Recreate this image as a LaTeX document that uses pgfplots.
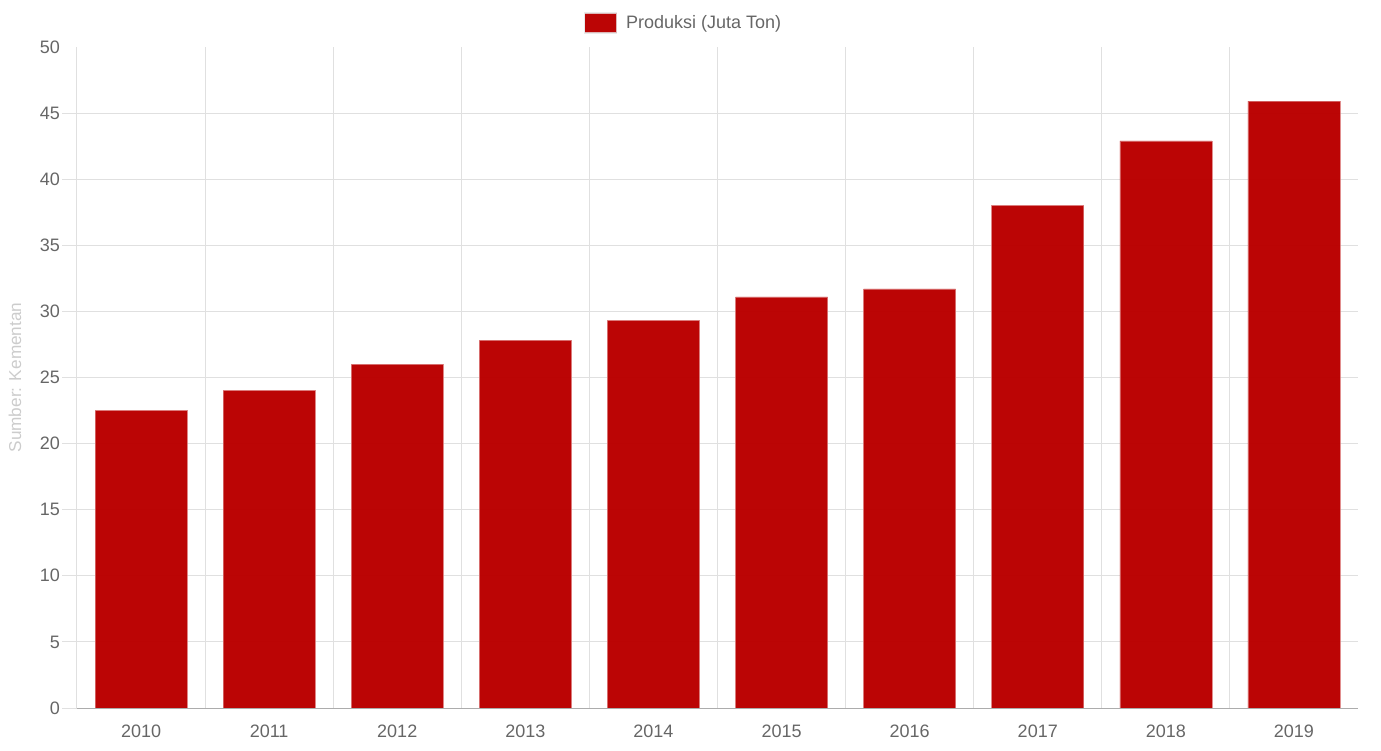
\documentclass[border=0pt]{standalone}
\usepackage{fontspec}
\setmainfont{Liberation Sans}
\usepackage{pgfplots}
\pgfplotsset{compat=1.18}
\definecolor{barred}{HTML}{BA0000}
\definecolor{tickgray}{HTML}{666666}
\definecolor{gridgray}{HTML}{E0E0E0}
\begin{document}
\begin{tikzpicture}
\useasboundingbox (-38.5pt,-21pt) rectangle (652pt,354pt);
\begin{axis}[
  at={(0,0)}, anchor=south west,
  scale only axis, width=640.5pt, height=330.5pt,
  xmin=-0.5, xmax=9.5, ymin=0, ymax=50,
  xtick={0,...,9},
  xticklabels={2010,2011,2012,2013,2014,2015,2016,2017,2018,2019},
  minor xtick={-0.5,0.5,...,8.5},
  ytick={0,5,...,45},
  extra y ticks={50},
  extra y tick style={grid=none, ytick style={draw=none}},
  xmajorgrids=false, xminorgrids=true, ymajorgrids=true,
  grid style={gridgray, line width=0.5pt},
  minor grid style={gridgray, line width=0.5pt},
  tick align=outside,
  major tick length=7.5pt, minor tick length=7pt,
  xtick style={draw=none},
  minor x tick style={gridgray, line width=0.5pt},
  ytick style={gridgray, line width=0.5pt},
  axis x line*=bottom, axis y line*=left,
  x axis line style={-, draw=gray!65, line width=0.5pt},
  y axis line style={-, draw=gridgray, line width=0.5pt},
  ticklabel style={font=\fontsize{9}{11}\selectfont, text=tickgray},
  xticklabel style={inner sep=0pt, yshift=-1pt},
  yticklabel style={inner sep=0pt, xshift=-0.8pt},
  /pgf/number format/assume math mode=true,
  ylabel={Sumber: Kementan},
  ylabel style={font=\fontsize{8.6}{10}\selectfont, text=gray!40, at={(axis description cs:-0.0484,0.5)}, anchor=center},
  legend style={at={(0.4727,1.0363)}, anchor=center, draw=none, fill=none,
    font=\fontsize{9}{11}\selectfont, text=tickgray, inner sep=0pt,
    legend cell align=left, nodes={inner sep=0pt}},
  legend image code/.code={\draw[fill=barred, draw=gray!20, line width=0.7pt] (0pt,-5pt) rectangle (16pt,5pt); \path (20.5pt,0pt);},
]
\addplot[ybar, bar width=0.718, fill=barred, fill opacity=0.98, draw=barred!55!white, draw opacity=0.8, line width=0.3pt]
  coordinates {(0,22.5) (1,24.0) (2,26.0) (3,27.8) (4,29.3) (5,31.1) (6,31.7) (7,38.0) (8,42.9) (9,45.9)};
\addlegendentry{Produksi (Juta Ton)}
\draw[gray!65, line width=0.5pt] (axis cs:-0.5,0) -- (axis cs:9.5,0);
\end{axis}
\end{tikzpicture}
\end{document}
